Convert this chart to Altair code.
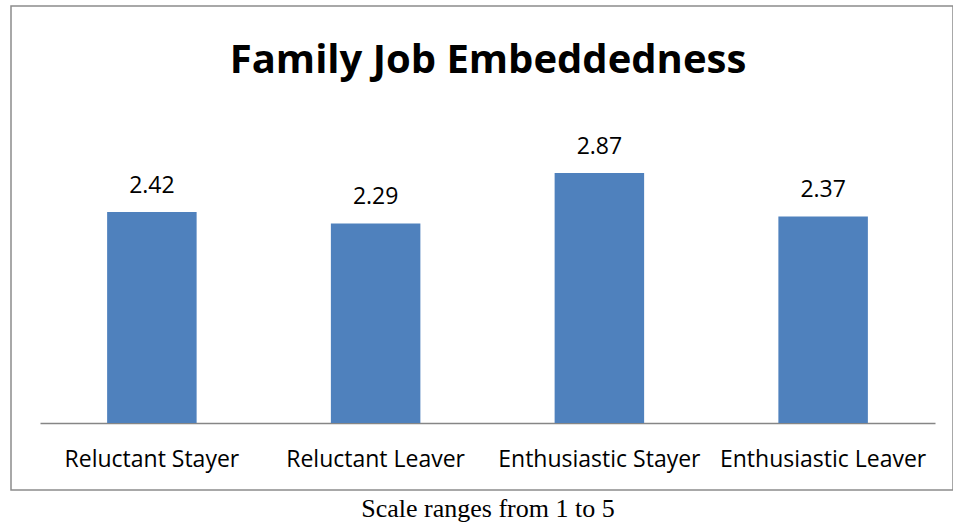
import altair as alt
import pandas as pd

categories = ["Reluctant Stayer", "Reluctant Leaver", "Enthusiastic Stayer", "Enthusiastic Leaver"]
values = [2.42, 2.29, 2.87, 2.37]
value_labels = ["2.42", "2.29", "2.87", "2.37"]
title_text = "Family Job Embeddedness"
footer_text = "Scale ranges from 1 to 5"

df = pd.DataFrame({"category": categories, "value": values, "label": value_labels})

FONT = "Open Sans"
W, H = 895, 305

x_enc = alt.X("category:N", sort=categories,
              scale=alt.Scale(paddingInner=0.6, paddingOuter=0.3),
              axis=alt.Axis(title=None, labelAngle=0, labelFont=FONT, labelFontSize=23,
                            labelColor="#000000", labelPadding=43, labelBaseline="alphabetic",
                            labelLimit=0, labelOverlap=False,
                            ticks=False, domainColor="#868686", domainWidth=1.5, grid=False))
y_enc = alt.Y("value:Q", scale=alt.Scale(domain=[0, 3.5], nice=False), axis=None)

base = alt.Chart(df)
bars = base.mark_bar(color="#4f81bd").encode(x=x_enc, y=y_enc)
texts = base.mark_text(font=FONT, fontSize=23, color="#000000", dy=-19, baseline="alphabetic").encode(
    x=alt.X("category:N", sort=categories), y="value:Q", text="label:N")

border = alt.Chart(pd.DataFrame({"a": [0]})).mark_rect(
    fill=None, stroke="#8c8c8c", strokeWidth=1.5, clip=False).encode(
    x=alt.value(-29), x2=alt.value(913), y=alt.value(-112), y2=alt.value(372))

title = alt.Chart(pd.DataFrame({"t": [title_text]})).mark_text(
    font=FONT, fontSize=40, fontWeight="bold", color="#000000", baseline="alphabetic", align="center").encode(
    x=alt.value(448), y=alt.value(73 - 118), text="t:N")

footer = alt.Chart(pd.DataFrame({"t": [footer_text]})).mark_text(
    font="Liberation Serif", fontSize=26, color="#000000", baseline="alphabetic", align="center").encode(
    x=alt.value(488 - 40), y=alt.value(517 - 118), text="t:N")

chart = alt.layer(border, bars, texts, title, footer).properties(
    width=W, height=H,
    autosize=alt.AutoSizeParams(type="none"),
    padding={"left": 40, "top": 118, "right": 18, "bottom": 101},
    background="#ffffff",
).configure_view(stroke=None)

chart.save("out.html", embed_options={"renderer": "svg", "actions": False})
